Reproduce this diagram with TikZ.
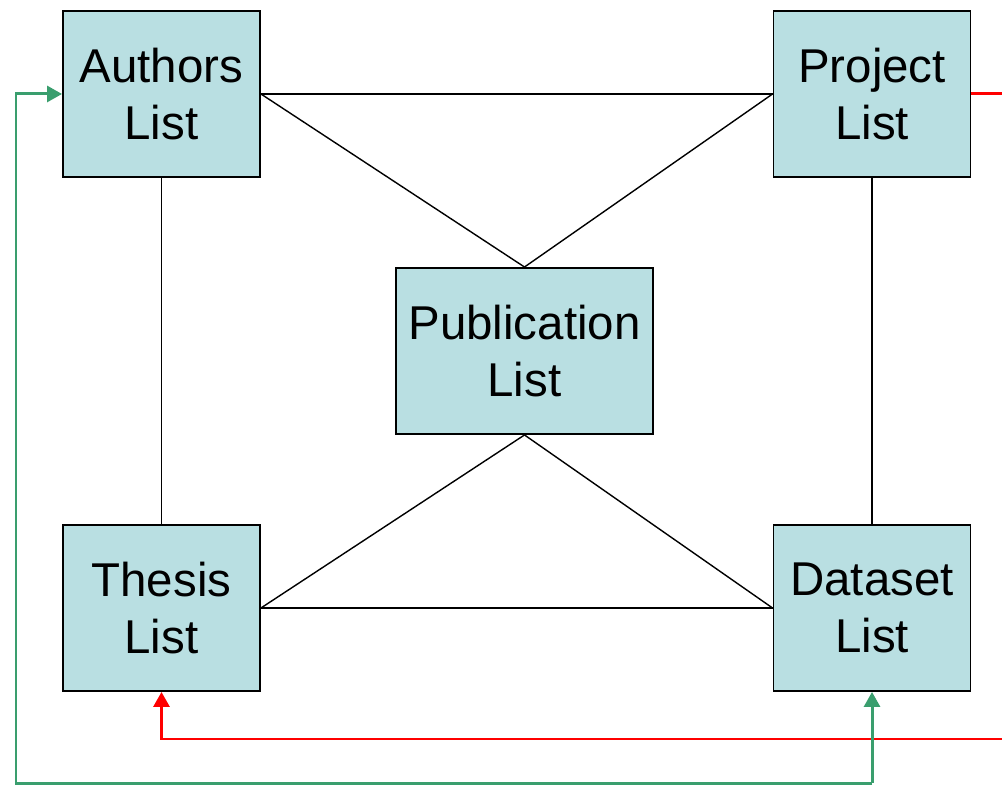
\documentclass[tikz,border=0pt]{standalone}
\usepackage{fontspec}
\setmainfont{Liberation Sans}
\usepackage{tikz}
\usepackage{xcolor}
\usetikzlibrary{calc,arrows.meta}

\definecolor{listfill}{RGB}{185,223,226}
\definecolor{linkgreen}{RGB}{58,158,110}

\begin{document}
\begin{tikzpicture}
    \tikzstyle{every node}=[draw,line width=1.1pt,fill=listfill,align=center,inner sep=0pt,minimum width=3.94cm,minimum height=3.32cm,font=\fontsize{27}{32.4}\selectfont]
    \useasboundingbox (0,0) rectangle (20.04,15.74);

    \node (authors) at (3.23,13.86) {Authors\\List};
    \node (project) at (17.44,13.86) {Project\\List};
    \node[minimum width=5.14cm] (pub) at (10.49,8.72) {Publication\\List};
    \node (thesis) at (3.23,3.58) {Thesis\\List};
    \node (dataset) at (17.44,3.58) {Dataset\\List};

    \draw[line width=0.8pt] (authors.east)--(project.west);
    \draw[line width=0.8pt] (authors.east)--(pub.north);
    \draw[line width=0.8pt] (project.west)--(pub.north);
    \draw[line width=0.8pt] (authors.south)--(thesis.north);
    \draw[line width=0.8pt] (project.south)--(dataset.north);
    \draw[line width=0.8pt] (pub.south)--(thesis.east);
    \draw[line width=0.8pt] (pub.south)--(dataset.west);
    \draw[line width=0.8pt] (thesis.east)--(dataset.west);

    % links running off the right edge
    \coordinate (redout) at (20.04,13.86);
    \coordinate (redin) at (20.04,0.96);
    \draw[red,line width=1.7pt] (project.east)--(redout);
    \draw[red,line width=1.7pt,-{Triangle[length=0.3cm,width=0.32cm]}] (redin)-|(thesis.south);

    \coordinate (greencorner) at (0.32,0.07);
    \coordinate (greenstart) at (dataset.south |- greencorner);
    \draw[linkgreen,line width=1.7pt,-{Triangle[length=0.3cm,width=0.32cm]}] (greenstart)--(dataset.south);
    \draw[linkgreen,line width=1.7pt,-{Triangle[length=0.3cm,width=0.32cm]}] (greenstart)-|(greencorner)|-(authors.west);

\end{tikzpicture}
\end{document}
